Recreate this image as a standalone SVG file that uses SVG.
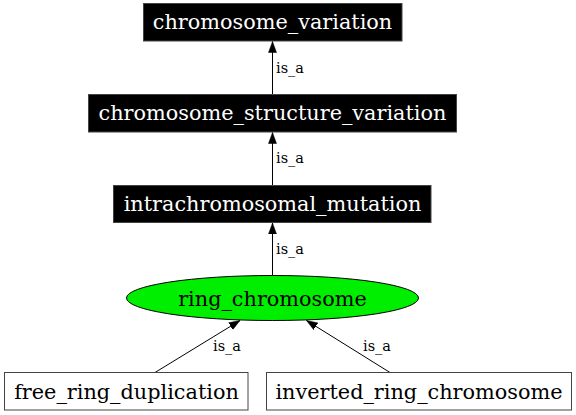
<svg xmlns="http://www.w3.org/2000/svg" width="576" height="415" viewBox="0 0 576 415">
<defs>
<marker id="arr" markerUnits="userSpaceOnUse" markerWidth="12" markerHeight="10" refX="11" refY="4" orient="auto" viewBox="0 0 12 8">
<path d="M0,0 L11,4 L0,8 z" fill="#000" stroke="#000" stroke-width="0.5"/>
</marker>
</defs>
<style>
.nt{font-family:"DejaVu Serif","Liberation Serif",serif;font-size:20.8px;text-anchor:middle}
.lt{font-family:"DejaVu Serif","Liberation Serif",serif;font-size:14.5px}
.blk{fill:#000;stroke:#444;stroke-width:1}
.wht{fill:#fff;stroke:#444;stroke-width:1}
.e{stroke:#000;stroke-width:1;fill:none;marker-end:url(#arr)}
</style>
<rect width="576" height="415" fill="#fff"/>
<g id="edges">
<line class="e" x1="272.5" y1="94" x2="272.5" y2="41.5"/>
<text class="lt" x="276" y="73">is_a</text>
<line class="e" x1="272.5" y1="185" x2="272.5" y2="132.5"/>
<text class="lt" x="276" y="163">is_a</text>
<line class="e" x1="272.5" y1="275.5" x2="272.5" y2="223"/>
<text class="lt" x="276" y="254">is_a</text>
<line class="e" x1="155" y1="372.5" x2="240" y2="320.5"/>
<text class="lt" x="213" y="351">is_a</text>
<line class="e" x1="390" y1="372.5" x2="306.5" y2="320.5"/>
<text class="lt" x="363" y="351">is_a</text>
</g>
<g id="chromosome_variation">
<rect class="blk" x="143.5" y="3.5" width="258.5" height="37.5"/>
<text class="nt" x="272.5" y="28.5" fill="#fff">chromosome_variation</text>
</g>
<g id="chromosome_structure_variation">
<rect class="blk" x="88.5" y="94.5" width="368" height="37.5"/>
<text class="nt" x="272.5" y="119.5" fill="#fff">chromosome_structure_variation</text>
</g>
<g id="intrachromosomal_mutation">
<rect class="blk" x="113.5" y="185.5" width="317.5" height="37"/>
<text class="nt" x="272.5" y="210.5" fill="#fff">intrachromosomal_mutation</text>
</g>
<g id="ring_chromosome">
<ellipse cx="272.5" cy="298" rx="146" ry="22.5" fill="#00ee00" stroke="#000" stroke-width="1"/>
<text class="nt" x="272.5" y="305.5" fill="#000">ring_chromosome</text>
</g>
<g id="free_ring_duplication">
<rect class="wht" x="4.5" y="372.5" width="243.5" height="37.5"/>
<text class="nt" x="126.5" y="398.5" fill="#000">free_ring_duplication</text>
</g>
<g id="inverted_ring_chromosome">
<rect class="wht" x="266.5" y="372.5" width="305" height="37.5"/>
<text class="nt" x="419" y="398.5" fill="#000">inverted_ring_chromosome</text>
</g>
</svg>
